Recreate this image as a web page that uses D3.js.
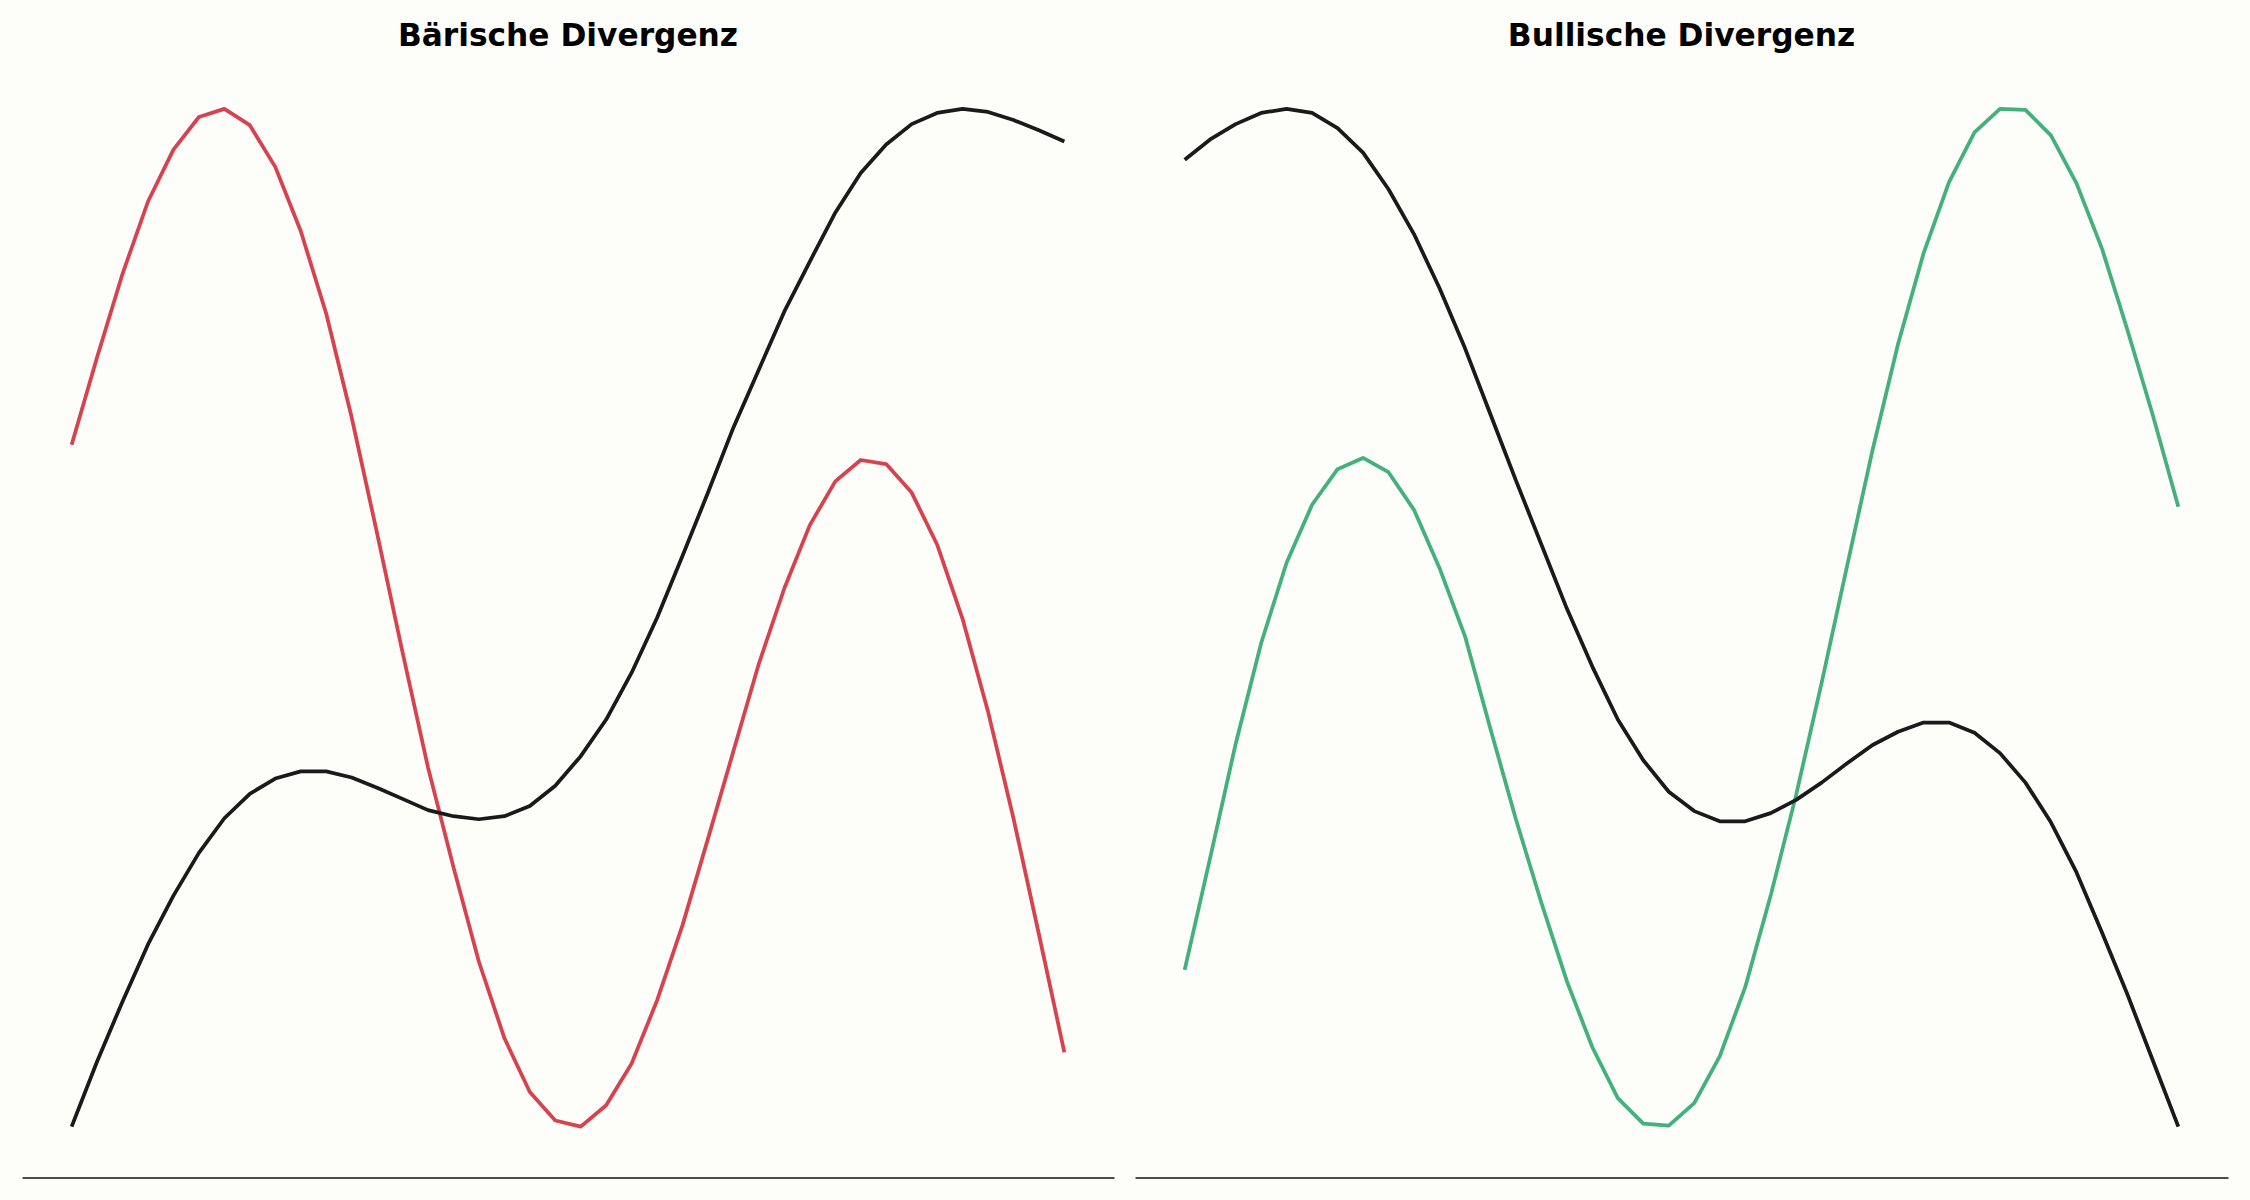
<!DOCTYPE html>
<html>
<head>
<meta charset="utf-8">
<script src="https://cdn.jsdelivr.net/npm/d3@7"></script>
<style>
  html, body { margin: 0; padding: 0; background: #fdfdf9; }
  svg { display: block; }
</style>
</head>
<body>
<svg id="chart" width="2250" height="1200"></svg>
<script>
// ---- Data (normalised 0–100 units) ----
const periods = d3.range(40);
const panelTitles = ["Bärische Divergenz", "Bullische Divergenz"];

// Left panel: price (black) makes a higher high, oscillator (red) a lower high
const bearPrice = [0, 6.4, 12.3, 17.9, 22.7, 26.9, 30.3, 32.7, 34.2, 34.9,
  34.9, 34.3, 33.3, 32.2, 31.1, 30.5, 30.2, 30.5, 31.5, 33.5,
  36.4, 40.0, 44.6, 50.0, 56.1, 62.3, 68.7, 74.4, 80.1, 85.0,
  89.8, 93.7, 96.5, 98.5, 99.6, 100, 99.7, 98.9, 97.9, 96.8];
const bearOsc = [67.0, 75.6, 83.8, 90.9, 96.0, 99.2, 100, 98.4, 94.3, 88.0,
  79.9, 69.7, 58.3, 46.6, 35.3, 25.5, 16.2, 8.7, 3.4, 0.6,
  0, 2.1, 6.2, 12.4, 19.8, 28.3, 36.9, 45.5, 52.9, 59.1,
  63.4, 65.5, 65.1, 62.3, 57.2, 49.9, 40.8, 30.3, 18.9, 7.3];

// Right panel: price (black) makes a lower low, oscillator (green) a higher low
const bullPrice = [95.0, 97.0, 98.5, 99.6, 100, 99.6, 98.1, 95.7, 92.1, 87.7,
  82.4, 76.5, 70.0, 63.5, 57.2, 50.9, 45.2, 40.0, 36.0, 32.9,
  31.0, 30.0, 30.0, 30.8, 32.1, 33.8, 35.7, 37.5, 38.8, 39.7,
  39.7, 38.7, 36.7, 33.8, 29.9, 25.0, 19.1, 13.0, 6.5, 0];
const bullOsc = [15.4, 26.4, 37.6, 47.5, 55.4, 61.1, 64.6, 65.7, 64.3, 60.6,
  54.9, 48.2, 39.1, 30.2, 22.0, 14.3, 7.8, 2.8, 0.3, 0.1,
  2.3, 6.9, 13.7, 22.7, 32.6, 43.6, 55.1, 66.5, 76.9, 85.8,
  92.8, 97.7, 100, 99.9, 97.4, 92.7, 86.3, 78.3, 69.9, 60.9];

const colors = { price: "#1a1a1a", bear: "#d7424f", bull: "#44b07e" };

// ---- Layout ----
const svg = d3.select("#chart");
const panels = [
  { title: panelTitles[0], left: 22, right: 1114, series: [
      { values: bearOsc, color: colors.bear },
      { values: bearPrice, color: colors.price } ] },
  { title: panelTitles[1], left: 1135, right: 2228, series: [
      { values: bullOsc, color: colors.bull },
      { values: bullPrice, color: colors.price } ] }
];
const plotTop = 58, plotBottom = 1177.5;

function padded(extent) {
  const span = extent[1] - extent[0];
  return [extent[0] - 0.05 * span, extent[1] + 0.05 * span];
}

panels.forEach(p => {
  const g = svg.append("g");
  const x = d3.scaleLinear()
    .domain(padded(d3.extent(periods)))
    .range([p.left, p.right]);
  const allVals = p.series.flatMap(s => s.values);
  const y = d3.scaleLinear()
    .domain(padded(d3.extent(allVals)))
    .range([plotBottom, plotTop]);

  const line = d3.line()
    .x((d, i) => x(periods[i]))
    .y(d => y(d));

  p.series.forEach(s => {
    g.append("path")
      .datum(s.values)
      .attr("d", line)
      .attr("fill", "none")
      .attr("stroke", s.color)
      .attr("stroke-width", 3.75)
      .attr("stroke-linejoin", "round")
      .attr("stroke-linecap", "butt");
  });

  const axis = g.append("g")
    .attr("transform", `translate(0,${plotBottom})`)
    .call(d3.axisBottom(x).ticks(0).tickSizeOuter(0).tickSizeInner(0).tickFormat(""));
  axis.select(".domain").attr("stroke", "#111").attr("stroke-width", 1.7);

  g.append("text")
    .attr("x", (p.left + p.right) / 2)
    .attr("y", plotTop - 12.5)
    .attr("text-anchor", "middle")
    .attr("font-family", "DejaVu Sans")
    .attr("font-weight", "bold")
    .attr("font-size", 31.25)
    .attr("fill", "#000")
    .text(p.title);
});
</script>
</body>
</html>
